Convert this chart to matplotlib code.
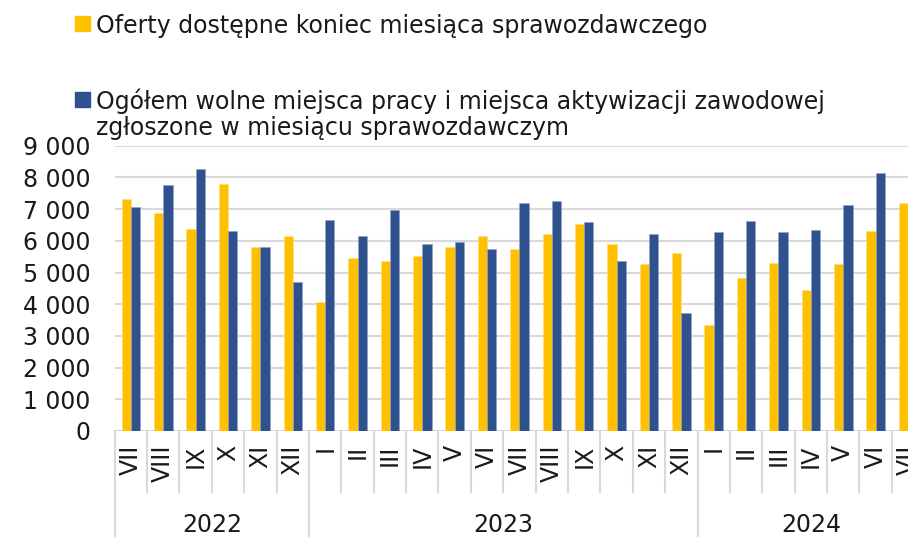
import matplotlib
matplotlib.use('Agg')
import matplotlib.pyplot as plt
from matplotlib.patches import Rectangle
from matplotlib.ticker import FuncFormatter, MultipleLocator
import numpy as np

months = ['VII', 'VIII', 'IX', 'X', 'XI', 'XII',
          'I', 'II', 'III', 'IV', 'V', 'VI', 'VII', 'VIII', 'IX', 'X', 'XI', 'XII',
          'I', 'II', 'III', 'IV', 'V', 'VI', 'VII']
years = ['2022', '2023', '2024']
year_counts = [6, 12, 7]

oferty = [7310, 6890, 6360, 7780, 5820, 6150,
          4070, 5460, 5350, 5510, 5810, 6160, 5750, 6210, 6520, 5900, 5280, 5620,
          3350, 4830, 5300, 4450, 5280, 6300, 7190]
wolne = [7080, 7750, 8280, 6320, 5810, 4700,
         6650, 6150, 6970, 5900, 5970, 5740, 7200, 7240, 6580, 5370, 6210, 3720,
         6280, 6620, 6270, 6340, 7130, 8150, np.nan]

label_oferty = 'Oferty dostępne koniec miesiąca sprawozdawczego'
label_wolne = ('Ogółem wolne miejsca pracy i miejsca aktywizacji zawodowej\n'
               'zgłoszone w miesiącu sprawozdawczym')

yellow = '#FFC000'
blue = '#2F528F'
grid_c = '#D9D9D9'
txt_c = '#1a1a1a'
fs = 17

plt.rcParams['font.family'] = ['DejaVu Sans']

fig = plt.figure(figsize=(9.08, 5.37), dpi=100)
W, H = 908, 537
ax = fig.add_axes([114.7 / W, (H - 431) / H, (W - 114.7) / W, 285.3 / H])

x = np.arange(len(months))
bw = 0.286
ax.bar(x - bw / 2, oferty, width=bw, color=yellow, edgecolor='#FFE07A', linewidth=0.4, zorder=3)
ax.bar(x + bw / 2, wolne, width=bw, color=blue, edgecolor='#8EA2C8', linewidth=0.4, zorder=3)

ax.set_xlim(-0.5, 23.87)
ax.set_ylim(0, 9000)
ax.yaxis.set_major_locator(MultipleLocator(1000))
ax.yaxis.set_major_formatter(FuncFormatter(lambda v, p: f'{int(v):,}'.replace(',', ' ')))
ax.grid(axis='y', color=grid_c, linewidth=1.5, zorder=0)
for s in ax.spines.values():
    s.set_visible(False)
ax.tick_params(axis='y', length=0, pad=17.5, labelsize=fs, labelcolor=txt_c)

ax.set_xticks(x)
ax.set_xticklabels(months, rotation=90, fontsize=fs, color=txt_c)
ax.tick_params(axis='x', length=0, pad=10)

# multi-level category axis
trans = ax.get_xaxis_transform()
bounds = np.arange(len(months) + 1) - 0.5
year_edges = np.concatenate([[0], np.cumsum(year_counts)]) - 0.5
for b in bounds:
    low = -0.372 if b in year_edges else -0.214
    ax.plot([b, b], [0, low], transform=trans, color=grid_c, lw=1.5, clip_on=False)
for i, yr in enumerate(years):
    c = (year_edges[i] + year_edges[i + 1]) / 2
    ax.text(c, -0.33, yr, transform=trans, ha='center', va='center',
            fontsize=fs, color=txt_c)

# legend
fig.patches.append(Rectangle((75 / W, 1 - 31 / H), 15 / W, 15 / H,
                             transform=fig.transFigure, color=yellow))
fig.text(96 / W, 1 - 33 / H, label_oferty, fontsize=fs, color=txt_c, va='baseline')
fig.patches.append(Rectangle((75 / W, 1 - 107 / H), 15 / W, 15 / H,
                             transform=fig.transFigure, color=blue))
fig.text(96 / W, 1 - 88 / H, label_wolne, fontsize=fs, color=txt_c, va='top',
         linespacing=1.15)

fig.savefig('out.png', dpi=100, facecolor='white')
